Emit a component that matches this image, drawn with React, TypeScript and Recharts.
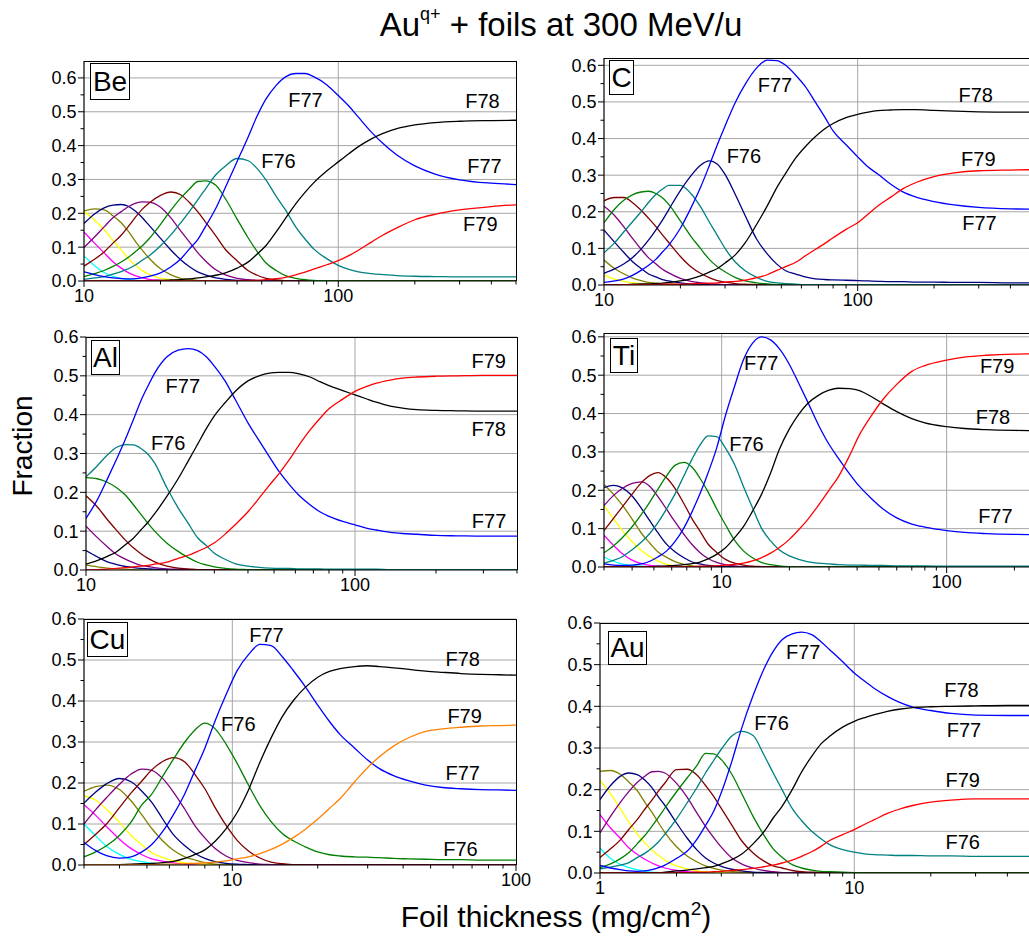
import React from 'react';
import { LineChart, Line, XAxis, YAxis, CartesianGrid, ReferenceDot } from 'recharts';

const FONT = '"Liberation Sans", Arial, Helvetica, sans-serif';

const C_CYAN = '#00ffff';
const C_MAGENTA = '#ff00ff';
const C_YELLOW = '#ffff00';
const C_OLIVE = '#808000';
const C_NAVY = '#000080';
const C_PURPLE = '#800080';
const C_DARKRED = '#800000';
const C_GREEN = '#008000';
const C_TEAL = '#008080';
const C_BLUE = '#0000ff';
const C_BLACK = '#000000';
const C_RED = '#ff0000';
const C_ORANGE = '#ff8000';

// ---------------- Be ----------------
const beX = [10, 11, 12, 13, 14, 15, 16, 17, 18, 20, 22, 24, 26, 28, 30, 33, 36, 40, 44, 48, 52, 57, 62, 68, 74, 80, 90, 100, 110, 120, 135, 150, 170, 200, 240, 300, 400, 500];
const beCyan = [0.074, 0.045, 0.025, 0.014, 0.008, 0.004, 0.002, 0.001, 0];
const beMagenta = [0.145, 0.112, 0.083, 0.057, 0.038, 0.024, 0.015, 0.009, 0.005, 0.002, 0.001, 0];
const beYellow = [0.205, 0.18, 0.152, 0.12, 0.092, 0.065, 0.045, 0.03, 0.02, 0.008, 0.004, 0.002, 0.001, 0];
const beOlive = [0.207, 0.213, 0.21, 0.193, 0.172, 0.145, 0.115, 0.09, 0.068, 0.036, 0.018, 0.008, 0.005, 0.002, 0.001, 0];
const beNavy = [0.17, 0.198, 0.216, 0.224, 0.226, 0.22, 0.205, 0.186, 0.165, 0.126, 0.091, 0.063, 0.042, 0.027, 0.018, 0.009, 0.005, 0.002, 0.001, 0];
const bePurple = [0.099, 0.13, 0.16, 0.187, 0.205, 0.22, 0.23, 0.234, 0.233, 0.218, 0.186, 0.148, 0.115, 0.084, 0.06, 0.033, 0.018, 0.008, 0.004, 0.002, 0.001, 0];
const beDarkred = [0.044, 0.064, 0.086, 0.112, 0.135, 0.163, 0.19, 0.213, 0.23, 0.253, 0.263, 0.255, 0.232, 0.205, 0.175, 0.133, 0.093, 0.06, 0.032, 0.017, 0.008, 0.003, 0.001, 0];
const beGreen = [0.013, 0.022, 0.031, 0.043, 0.056, 0.071, 0.088, 0.105, 0.124, 0.167, 0.21, 0.245, 0.272, 0.294, 0.296, 0.283, 0.243, 0.183, 0.13, 0.087, 0.053, 0.031, 0.016, 0.008, 0.004, 0.002, 0.001, 0];
const beTeal = [0.005, 0.009, 0.013, 0.02, 0.028, 0.037, 0.048, 0.062, 0.074, 0.104, 0.137, 0.172, 0.206, 0.24, 0.271, 0.314, 0.34, 0.362, 0.356, 0.332, 0.298, 0.25, 0.21, 0.16, 0.124, 0.095, 0.066, 0.046, 0.034, 0.027, 0.022, 0.019, 0.016, 0.014, 0.013, 0.012, 0.012, 0.012];
const beBlue = [0.027, 0.019, 0.013, 0.009, 0.007, 0.006, 0.007, 0.01, 0.014, 0.024, 0.042, 0.065, 0.095, 0.122, 0.16, 0.215, 0.277, 0.353, 0.422, 0.488, 0.538, 0.578, 0.603, 0.613, 0.613, 0.604, 0.58, 0.548, 0.517, 0.484, 0.44, 0.406, 0.372, 0.34, 0.316, 0.299, 0.289, 0.285];
const beBlack = [0, 0, 0, 0, 0, 0, 0.001, 0.001, 0.001, 0.002, 0.003, 0.004, 0.006, 0.009, 0.012, 0.017, 0.024, 0.038, 0.055, 0.08, 0.105, 0.145, 0.185, 0.228, 0.262, 0.29, 0.325, 0.352, 0.376, 0.397, 0.42, 0.436, 0.45, 0.461, 0.468, 0.472, 0.474, 0.475];
const beRed = [0, 0, 0, 0, 0, 0, 0, 0, 0, 0, 0, 0, 0, 0, 0, 0, 0, 0, 0.001, 0.002, 0.004, 0.007, 0.011, 0.018, 0.026, 0.035, 0.048, 0.06, 0.075, 0.091, 0.115, 0.136, 0.157, 0.181, 0.197, 0.21, 0.22, 0.225];
const beLabels = [
  { x: 74.3, y: 0.534, t: 'F77' }, { x: 58.2, y: 0.354, t: 'F76' }, { x: 369, y: 0.532, t: 'F78' },
  { x: 376, y: 0.339, t: 'F77' }, { x: 362, y: 0.169, t: 'F79' },
];

// ---------------- C ----------------
const cX = [10, 11, 12, 13, 14, 15, 16, 17, 18, 20, 22, 24, 26, 28, 30, 33, 36, 40, 44, 48, 52, 57, 62, 68, 74, 80, 90, 100, 110, 120, 135, 150, 170, 200, 240, 300, 400, 500];
const cYellow = [0.027, 0.016, 0.01, 0.006, 0.003, 0.002, 0.001, 0];
const cOlive = [0.068, 0.045, 0.03, 0.019, 0.012, 0.007, 0.005, 0.003, 0.002, 0.001, 0];
const cNavy = [0.15, 0.117, 0.088, 0.063, 0.045, 0.03, 0.022, 0.015, 0.011, 0.006, 0.003, 0.002, 0.001, 0];
const cPurple = [0.215, 0.19, 0.158, 0.126, 0.098, 0.074, 0.058, 0.043, 0.033, 0.018, 0.01, 0.006, 0.003, 0.002, 0.001, 0];
const cDarkred = [0.23, 0.239, 0.239, 0.224, 0.204, 0.182, 0.16, 0.137, 0.116, 0.078, 0.05, 0.032, 0.02, 0.012, 0.008, 0.004, 0.002, 0.001, 0];
const cGreen = [0.17, 0.207, 0.232, 0.247, 0.254, 0.256, 0.25, 0.238, 0.22, 0.175, 0.133, 0.1, 0.07, 0.05, 0.036, 0.02, 0.011, 0.006, 0.003, 0.001, 0.001, 0];
const cTeal = [0.088, 0.115, 0.146, 0.174, 0.2, 0.226, 0.247, 0.262, 0.272, 0.272, 0.25, 0.214, 0.172, 0.135, 0.1, 0.062, 0.039, 0.021, 0.01, 0.006, 0.004, 0.002, 0.001, 0];
const cNavyF76 = [0.032, 0.044, 0.058, 0.076, 0.098, 0.123, 0.15, 0.177, 0.206, 0.258, 0.298, 0.327, 0.339, 0.33, 0.302, 0.246, 0.19, 0.125, 0.085, 0.057, 0.039, 0.03, 0.022, 0.017, 0.015, 0.014, 0.013, 0.012, 0.011, 0.01, 0.009, 0.009, 0.008, 0.008, 0.007, 0.007, 0.006, 0.006];
const cBlue = [0.007, 0.011, 0.017, 0.027, 0.04, 0.054, 0.07, 0.09, 0.109, 0.155, 0.21, 0.266, 0.326, 0.384, 0.434, 0.5, 0.548, 0.593, 0.614, 0.613, 0.6, 0.573, 0.543, 0.5, 0.46, 0.421, 0.383, 0.35, 0.322, 0.303, 0.275, 0.255, 0.24, 0.228, 0.219, 0.212, 0.208, 0.207];
const cBlack = [0, 0.001, 0.001, 0.002, 0.003, 0.003, 0.004, 0.005, 0.007, 0.011, 0.017, 0.025, 0.035, 0.045, 0.06, 0.083, 0.115, 0.166, 0.216, 0.266, 0.305, 0.347, 0.377, 0.405, 0.426, 0.441, 0.457, 0.466, 0.472, 0.476, 0.478, 0.479, 0.479, 0.477, 0.475, 0.473, 0.472, 0.472];
const cRed = [0, 0, 0.001, 0.001, 0.001, 0.001, 0.001, 0.002, 0.002, 0.002, 0.003, 0.004, 0.005, 0.006, 0.008, 0.01, 0.013, 0.02, 0.028, 0.04, 0.05, 0.062, 0.079, 0.097, 0.113, 0.129, 0.152, 0.17, 0.194, 0.216, 0.24, 0.262, 0.28, 0.296, 0.306, 0.312, 0.314, 0.315];
const cLabels = [
  { x: 47.2, y: 0.545, t: 'F77' }, { x: 35.6, y: 0.352, t: 'F76' }, { x: 292, y: 0.518, t: 'F78' },
  { x: 299, y: 0.344, t: 'F79' }, { x: 302, y: 0.169, t: 'F77' },
];

// ---------------- Al ----------------
const alX = [10, 11, 12, 13, 14, 15, 16, 17, 18, 20, 22, 24, 26, 28, 30, 33, 36, 40, 44, 48, 52, 57, 62, 68, 74, 80, 90, 100, 110, 120, 135, 150, 170, 200, 240, 300, 400];
const alOlive = [0.013, 0.008, 0.005, 0.003, 0.002, 0.001, 0];
const alNavy = [0.05, 0.034, 0.021, 0.014, 0.009, 0.006, 0.004, 0.003, 0.002, 0.001, 0];
const alPurple = [0.113, 0.084, 0.06, 0.04, 0.028, 0.019, 0.012, 0.009, 0.006, 0.003, 0.002, 0.001, 0];
const alDarkred = [0.191, 0.163, 0.13, 0.102, 0.077, 0.057, 0.042, 0.03, 0.021, 0.01, 0.005, 0.003, 0.001, 0];
const alGreen = [0.238, 0.235, 0.226, 0.212, 0.193, 0.168, 0.143, 0.12, 0.1, 0.069, 0.048, 0.032, 0.02, 0.013, 0.008, 0.004, 0.002, 0.001, 0];
const alTeal = [0.24, 0.268, 0.296, 0.316, 0.323, 0.322, 0.313, 0.298, 0.275, 0.211, 0.16, 0.12, 0.083, 0.063, 0.043, 0.027, 0.016, 0.01, 0.007, 0.005, 0.004, 0.004, 0.003, 0.003, 0.003, 0.002, 0.002, 0.002, 0.002, 0.002, 0.001, 0.001, 0.001, 0.001, 0.001, 0.001, 0.001];
const alBlue = [0.133, 0.18, 0.234, 0.286, 0.336, 0.387, 0.436, 0.474, 0.507, 0.549, 0.566, 0.57, 0.565, 0.549, 0.525, 0.485, 0.437, 0.379, 0.333, 0.292, 0.255, 0.22, 0.192, 0.168, 0.15, 0.138, 0.125, 0.116, 0.108, 0.103, 0.097, 0.094, 0.092, 0.089, 0.088, 0.087, 0.087];
const alBlack = [0.015, 0.024, 0.035, 0.047, 0.065, 0.082, 0.103, 0.123, 0.145, 0.19, 0.235, 0.281, 0.324, 0.364, 0.397, 0.432, 0.461, 0.487, 0.5, 0.507, 0.509, 0.509, 0.505, 0.497, 0.485, 0.475, 0.462, 0.451, 0.441, 0.432, 0.422, 0.417, 0.413, 0.411, 0.41, 0.409, 0.409];
const alRed = [0, 0.001, 0.002, 0.004, 0.006, 0.008, 0.01, 0.012, 0.015, 0.02, 0.03, 0.038, 0.048, 0.058, 0.07, 0.093, 0.118, 0.15, 0.185, 0.218, 0.247, 0.284, 0.322, 0.36, 0.39, 0.415, 0.44, 0.46, 0.472, 0.481, 0.489, 0.494, 0.497, 0.499, 0.5, 0.501, 0.501];
const alLabels = [
  { x: 22.9, y: 0.473, t: 'F77' }, { x: 20.2, y: 0.327, t: 'F76' }, { x: 314, y: 0.537, t: 'F79' },
  { x: 314, y: 0.363, t: 'F78' }, { x: 315, y: 0.127, t: 'F77' },
];

// ---------------- Ti ----------------
const tiX = [3, 3.3, 3.6, 4, 4.4, 4.8, 5.2, 5.7, 6.2, 6.8, 7.4, 8, 8.7, 9.5, 10.4, 11.4, 12.5, 13.7, 15, 16.5, 18, 20, 22, 24, 27, 30, 33, 37, 41, 46, 52, 60, 70, 80, 100, 120, 150, 200, 300];
const tiCyan = [0.026, 0.015, 0.008, 0.004, 0.002, 0.001, 0];
const tiMagenta = [0.083, 0.057, 0.036, 0.018, 0.009, 0.004, 0.002, 0.001, 0];
const tiYellow = [0.16, 0.127, 0.097, 0.066, 0.043, 0.027, 0.016, 0.007, 0.003, 0.001, 0];
const tiOlive = [0.215, 0.19, 0.163, 0.125, 0.088, 0.062, 0.04, 0.025, 0.014, 0.007, 0.003, 0.001, 0];
const tiNavy = [0.207, 0.213, 0.207, 0.185, 0.153, 0.12, 0.09, 0.059, 0.04, 0.024, 0.013, 0.008, 0.004, 0.002, 0.001, 0];
const tiPurple = [0.16, 0.186, 0.204, 0.218, 0.222, 0.21, 0.184, 0.15, 0.118, 0.085, 0.058, 0.038, 0.022, 0.012, 0.006, 0.003, 0.001, 0];
const tiDarkred = [0.095, 0.126, 0.155, 0.19, 0.22, 0.239, 0.246, 0.232, 0.205, 0.165, 0.125, 0.094, 0.06, 0.038, 0.02, 0.01, 0.005, 0.002, 0.001, 0];
const tiGreen = [0.037, 0.055, 0.075, 0.105, 0.137, 0.17, 0.202, 0.238, 0.265, 0.273, 0.26, 0.232, 0.196, 0.152, 0.11, 0.07, 0.042, 0.024, 0.012, 0.006, 0.003, 0.001, 0];
const tiTeal = [0.01, 0.017, 0.026, 0.045, 0.065, 0.088, 0.115, 0.152, 0.19, 0.238, 0.282, 0.317, 0.342, 0.34, 0.31, 0.268, 0.21, 0.155, 0.102, 0.068, 0.045, 0.029, 0.02, 0.014, 0.01, 0.008, 0.006, 0.005, 0.005, 0.004, 0.004, 0.003, 0.003, 0.003, 0.002, 0.002, 0.002, 0.002, 0.002];
const tiBlue = [0.008, 0.005, 0.004, 0.005, 0.008, 0.015, 0.026, 0.042, 0.066, 0.102, 0.145, 0.19, 0.245, 0.31, 0.395, 0.47, 0.54, 0.583, 0.6, 0.592, 0.57, 0.528, 0.479, 0.433, 0.369, 0.32, 0.284, 0.243, 0.21, 0.18, 0.152, 0.128, 0.112, 0.104, 0.095, 0.09, 0.087, 0.085, 0.084];
const tiBlack = [0, 0, 0, 0.001, 0.001, 0.001, 0.002, 0.003, 0.004, 0.006, 0.009, 0.013, 0.021, 0.033, 0.05, 0.076, 0.105, 0.145, 0.188, 0.245, 0.305, 0.36, 0.398, 0.425, 0.448, 0.461, 0.466, 0.465, 0.46, 0.445, 0.426, 0.405, 0.387, 0.376, 0.366, 0.361, 0.358, 0.356, 0.355];
const tiRed = [0, 0, 0, 0, 0, 0, 0, 0, 0.001, 0.001, 0.001, 0.002, 0.002, 0.003, 0.005, 0.007, 0.01, 0.016, 0.024, 0.036, 0.05, 0.072, 0.097, 0.122, 0.162, 0.2, 0.235, 0.29, 0.345, 0.392, 0.436, 0.476, 0.51, 0.525, 0.539, 0.547, 0.552, 0.555, 0.556];
const tiLabels = [
  { x: 15.0, y: 0.531, t: 'F77' }, { x: 12.9, y: 0.321, t: 'F76' }, { x: 167.6, y: 0.525, t: 'F79' },
  { x: 160.7, y: 0.39, t: 'F78' }, { x: 164.7, y: 0.132, t: 'F77' },
];

// ---------------- Cu ----------------
const cuX = [3, 3.3, 3.6, 4, 4.4, 4.8, 5.2, 5.7, 6.2, 6.8, 7.4, 8, 8.7, 9.5, 10.4, 11.4, 12.5, 13.7, 15, 16.5, 18, 20, 22, 24, 27, 30, 33, 37, 42, 48, 55, 64, 75, 87, 100];
const cuCyan = [0.1, 0.071, 0.046, 0.026, 0.014, 0.008, 0.004, 0.002, 0.001, 0];
const cuMagenta = [0.147, 0.121, 0.094, 0.063, 0.04, 0.025, 0.015, 0.009, 0.005, 0.002, 0.001, 0];
const cuYellow = [0.169, 0.158, 0.136, 0.104, 0.072, 0.049, 0.03, 0.018, 0.01, 0.005, 0.003, 0.002, 0.001, 0];
const cuOlive = [0.18, 0.191, 0.195, 0.184, 0.156, 0.122, 0.089, 0.058, 0.036, 0.02, 0.012, 0.006, 0.002, 0.001, 0];
const cuNavy = [0.151, 0.178, 0.198, 0.211, 0.203, 0.18, 0.153, 0.111, 0.074, 0.047, 0.028, 0.016, 0.008, 0.004, 0.002, 0.001, 0];
const cuPurple = [0.1, 0.135, 0.164, 0.197, 0.222, 0.234, 0.231, 0.21, 0.178, 0.136, 0.095, 0.066, 0.04, 0.022, 0.011, 0.006, 0.002, 0.001, 0];
const cuDarkred = [0.05, 0.075, 0.1, 0.14, 0.176, 0.205, 0.232, 0.253, 0.262, 0.251, 0.22, 0.186, 0.14, 0.097, 0.06, 0.034, 0.017, 0.007, 0.003, 0.001, 0];
const cuGreen = [0.02, 0.032, 0.047, 0.072, 0.105, 0.147, 0.173, 0.218, 0.258, 0.3, 0.33, 0.346, 0.332, 0.295, 0.248, 0.195, 0.145, 0.106, 0.077, 0.058, 0.045, 0.032, 0.025, 0.022, 0.02, 0.019, 0.018, 0.016, 0.015, 0.014, 0.013, 0.013, 0.012, 0.012, 0.012];
const cuBlue = [0.055, 0.035, 0.023, 0.017, 0.02, 0.032, 0.05, 0.083, 0.123, 0.174, 0.232, 0.285, 0.352, 0.415, 0.474, 0.513, 0.538, 0.535, 0.508, 0.472, 0.437, 0.39, 0.35, 0.318, 0.285, 0.256, 0.235, 0.218, 0.205, 0.195, 0.189, 0.186, 0.184, 0.183, 0.182];
const cuBlack = [0, 0, 0, 0.001, 0.002, 0.003, 0.004, 0.006, 0.009, 0.016, 0.026, 0.037, 0.058, 0.088, 0.128, 0.183, 0.25, 0.31, 0.362, 0.403, 0.432, 0.458, 0.472, 0.479, 0.484, 0.486, 0.484, 0.481, 0.477, 0.473, 0.47, 0.467, 0.465, 0.464, 0.463];
const cuOrange = [0, 0, 0, 0, 0.001, 0.001, 0.001, 0.002, 0.002, 0.003, 0.004, 0.005, 0.007, 0.01, 0.015, 0.02, 0.028, 0.038, 0.051, 0.068, 0.086, 0.112, 0.138, 0.162, 0.203, 0.238, 0.264, 0.29, 0.311, 0.326, 0.332, 0.336, 0.339, 0.34, 0.341];
const cuLabels = [
  { x: 13.2, y: 0.561, t: 'F77' }, { x: 10.5, y: 0.344, t: 'F76' }, { x: 64.9, y: 0.502, t: 'F78' },
  { x: 65.9, y: 0.364, t: 'F79' }, { x: 64.9, y: 0.224, t: 'F77' }, { x: 63.7, y: 0.039, t: 'F76' },
];

// ---------------- Au ----------------
const auX = [1, 1.1, 1.2, 1.3, 1.4, 1.5, 1.6, 1.7, 1.8, 2, 2.2, 2.4, 2.6, 2.8, 3, 3.3, 3.6, 4, 4.4, 4.8, 5.2, 5.7, 6.2, 6.8, 7.4, 8, 9, 10, 11, 12, 13.5, 15, 17, 20, 24, 30, 40, 50];
const auCyan = [0.06, 0.035, 0.021, 0.013, 0.008, 0.004, 0.002, 0.001, 0];
const auMagenta = [0.14, 0.108, 0.084, 0.06, 0.045, 0.033, 0.024, 0.017, 0.012, 0.006, 0.003, 0.002, 0.001, 0];
const auYellow = [0.222, 0.19, 0.155, 0.122, 0.094, 0.073, 0.055, 0.042, 0.031, 0.017, 0.01, 0.005, 0.003, 0.002, 0.001, 0];
const auOlive = [0.244, 0.246, 0.237, 0.218, 0.198, 0.17, 0.146, 0.12, 0.097, 0.063, 0.041, 0.027, 0.017, 0.011, 0.007, 0.004, 0.002, 0.001, 0];
const auNavy = [0.176, 0.21, 0.232, 0.24, 0.236, 0.223, 0.205, 0.182, 0.162, 0.12, 0.084, 0.056, 0.036, 0.024, 0.016, 0.009, 0.005, 0.002, 0.001, 0];
const auPurple = [0.096, 0.136, 0.169, 0.196, 0.217, 0.232, 0.243, 0.244, 0.24, 0.215, 0.182, 0.145, 0.112, 0.085, 0.062, 0.036, 0.022, 0.012, 0.006, 0.003, 0.001, 0];
const auDarkred = [0.037, 0.058, 0.079, 0.105, 0.128, 0.153, 0.175, 0.197, 0.216, 0.248, 0.249, 0.236, 0.21, 0.184, 0.155, 0.115, 0.078, 0.048, 0.029, 0.017, 0.012, 0.006, 0.003, 0.002, 0.001, 0];
const auGreen = [0.013, 0.022, 0.034, 0.049, 0.07, 0.09, 0.112, 0.134, 0.156, 0.195, 0.228, 0.257, 0.287, 0.286, 0.272, 0.237, 0.192, 0.136, 0.092, 0.058, 0.038, 0.02, 0.012, 0.007, 0.004, 0.003, 0.002, 0.001, 0];
const auTeal = [0.01, 0.014, 0.019, 0.025, 0.037, 0.047, 0.06, 0.075, 0.093, 0.13, 0.168, 0.204, 0.24, 0.27, 0.297, 0.329, 0.34, 0.33, 0.285, 0.24, 0.2, 0.155, 0.126, 0.1, 0.082, 0.068, 0.056, 0.05, 0.046, 0.044, 0.043, 0.042, 0.042, 0.041, 0.041, 0.04, 0.04, 0.04];
const auBlue = [0.018, 0.012, 0.008, 0.005, 0.004, 0.005, 0.008, 0.013, 0.019, 0.035, 0.052, 0.08, 0.114, 0.148, 0.193, 0.268, 0.346, 0.426, 0.488, 0.532, 0.56, 0.574, 0.578, 0.572, 0.555, 0.536, 0.507, 0.48, 0.46, 0.443, 0.424, 0.41, 0.398, 0.39, 0.383, 0.379, 0.378, 0.378];
const auBlack = [0, 0, 0, 0, 0, 0.001, 0.001, 0.001, 0.002, 0.005, 0.007, 0.01, 0.013, 0.016, 0.022, 0.032, 0.045, 0.07, 0.098, 0.132, 0.16, 0.2, 0.242, 0.28, 0.31, 0.328, 0.35, 0.364, 0.373, 0.38, 0.388, 0.393, 0.397, 0.399, 0.4, 0.401, 0.402, 0.402];
const auRed = [0, 0, 0, 0, 0, 0, 0, 0, 0, 0.001, 0.001, 0.002, 0.002, 0.003, 0.004, 0.006, 0.008, 0.011, 0.015, 0.019, 0.024, 0.031, 0.04, 0.051, 0.064, 0.078, 0.092, 0.104, 0.117, 0.128, 0.143, 0.153, 0.162, 0.17, 0.175, 0.178, 0.178, 0.178];
const auLabels = [
  { x: 6.3, y: 0.53, t: 'F77' }, { x: 4.73, y: 0.361, t: 'F76' }, { x: 26.4, y: 0.439, t: 'F78' },
  { x: 27.0, y: 0.343, t: 'F77' }, { x: 26.7, y: 0.223, t: 'F79' }, { x: 26.7, y: 0.075, t: 'F76' },
];

// ---------------- ticks ----------------
const yTicks = [0, 0.05, 0.1, 0.15, 0.2, 0.25, 0.3, 0.35, 0.4, 0.45, 0.5, 0.55, 0.6];
const yGrid = [0.1, 0.2, 0.3, 0.4, 0.5, 0.6];
const ticks10to500 = [10, 20, 30, 40, 50, 60, 70, 80, 90, 100, 200, 300, 400, 500];
const ticks10to400 = [10, 20, 30, 40, 50, 60, 70, 80, 90, 100, 200, 300, 400];
const ticks3to300 = [3, 4, 5, 6, 7, 8, 9, 10, 20, 30, 40, 50, 60, 70, 80, 90, 100, 200, 300];
const ticks3to100 = [3, 4, 5, 6, 7, 8, 9, 10, 20, 30, 40, 50, 60, 70, 80, 90, 100];
const ticks1to50 = [1, 2, 3, 4, 5, 6, 7, 8, 9, 10, 20, 30, 40, 50];

type S = { key: string; color: string; values: number[] };
type Lab = { x: number; y: number; t: string };
type Cfg = {
  name: string; left: number; top: number; w: number; h: number;
  xDomain: [number, number]; yMax: number; xs: number[]; series: S[];
  xTicks: number[]; xMajor: number[]; gridX: number[]; labels: Lab[];
  box: { l: number; t: number; w: number; h: number };
};

const s = (key: string, color: string, values: number[]): S => ({ key, color, values });

const panels: Cfg[] = [
  {
    name: 'Be', left: 84, top: 61, w: 432, h: 220, xDomain: [10, 500], yMax: 0.65, xs: beX,
    series: [s('cyan', C_CYAN, beCyan), s('magenta', C_MAGENTA, beMagenta), s('yellow', C_YELLOW, beYellow), s('olive', C_OLIVE, beOlive), s('navy', C_NAVY, beNavy), s('purple', C_PURPLE, bePurple), s('darkred', C_DARKRED, beDarkred), s('green', C_GREEN, beGreen), s('teal', C_TEAL, beTeal), s('blue', C_BLUE, beBlue), s('black', C_BLACK, beBlack), s('red', C_RED, beRed)],
    xTicks: ticks10to500, xMajor: [10, 100], gridX: [100], labels: beLabels, box: { l: 6, t: 2, w: 40, h: 37 },
  },
  {
    name: 'C', left: 604, top: 58, w: 431, h: 227, xDomain: [10, 500], yMax: 0.62, xs: cX,
    series: [s('yellow', C_YELLOW, cYellow), s('olive', C_OLIVE, cOlive), s('navy', C_NAVY, cNavy), s('purple', C_PURPLE, cPurple), s('darkred', C_DARKRED, cDarkred), s('green', C_GREEN, cGreen), s('teal', C_TEAL, cTeal), s('navy2', C_NAVY, cNavyF76), s('blue', C_BLUE, cBlue), s('black', C_BLACK, cBlack), s('red', C_RED, cRed)],
    xTicks: ticks10to500, xMajor: [10, 100], gridX: [100], labels: cLabels, box: { l: 5, t: 2, w: 25, h: 35 },
  },
  {
    name: 'Al', left: 86, top: 337, w: 431, h: 233, xDomain: [10, 400], yMax: 0.6, xs: alX,
    series: [s('olive', C_OLIVE, alOlive), s('navy', C_NAVY, alNavy), s('purple', C_PURPLE, alPurple), s('darkred', C_DARKRED, alDarkred), s('green', C_GREEN, alGreen), s('teal', C_TEAL, alTeal), s('blue', C_BLUE, alBlue), s('black', C_BLACK, alBlack), s('red', C_RED, alRed)],
    xTicks: ticks10to400, xMajor: [10, 100], gridX: [100], labels: alLabels, box: { l: 5, t: 3, w: 29, h: 35 },
  },
  {
    name: 'Ti', left: 604, top: 333, w: 450, h: 234, xDomain: [3, 300], yMax: 0.61, xs: tiX,
    series: [s('cyan', C_CYAN, tiCyan), s('magenta', C_MAGENTA, tiMagenta), s('yellow', C_YELLOW, tiYellow), s('olive', C_OLIVE, tiOlive), s('navy', C_NAVY, tiNavy), s('purple', C_PURPLE, tiPurple), s('darkred', C_DARKRED, tiDarkred), s('green', C_GREEN, tiGreen), s('teal', C_TEAL, tiTeal), s('blue', C_BLUE, tiBlue), s('black', C_BLACK, tiBlack), s('red', C_RED, tiRed)],
    xTicks: ticks3to300, xMajor: [10, 100], gridX: [10, 100], labels: tiLabels, box: { l: 6, t: 5, w: 28, h: 35 },
  },
  {
    name: 'Cu', left: 84, top: 619, w: 432, h: 246, xDomain: [3, 100], yMax: 0.6, xs: cuX,
    series: [s('cyan', C_CYAN, cuCyan), s('magenta', C_MAGENTA, cuMagenta), s('yellow', C_YELLOW, cuYellow), s('olive', C_OLIVE, cuOlive), s('navy', C_NAVY, cuNavy), s('purple', C_PURPLE, cuPurple), s('darkred', C_DARKRED, cuDarkred), s('green', C_GREEN, cuGreen), s('blue', C_BLUE, cuBlue), s('black', C_BLACK, cuBlack), s('orange', C_ORANGE, cuOrange)],
    xTicks: ticks3to100, xMajor: [10, 100], gridX: [10], labels: cuLabels, box: { l: 3, t: 3, w: 41, h: 35 },
  },
  {
    name: 'Au', left: 600, top: 623, w: 432, h: 250, xDomain: [1, 50], yMax: 0.6, xs: auX,
    series: [s('cyan', C_CYAN, auCyan), s('magenta', C_MAGENTA, auMagenta), s('yellow', C_YELLOW, auYellow), s('olive', C_OLIVE, auOlive), s('navy', C_NAVY, auNavy), s('purple', C_PURPLE, auPurple), s('darkred', C_DARKRED, auDarkred), s('green', C_GREEN, auGreen), s('teal', C_TEAL, auTeal), s('blue', C_BLUE, auBlue), s('black', C_BLACK, auBlack), s('red', C_RED, auRed)],
    xTicks: ticks1to50, xMajor: [1, 10], gridX: [10], labels: auLabels, box: { l: 8, t: 8, w: 39, h: 34 },
  },
];

const ML = 60, MT = 10, MR = 30, XH = 40;

function makeRows(xs: number[], series: S[]) {
  return xs.map((x, i) => {
    const row: Record<string, number> = { x };
    series.forEach((sr) => { row[sr.key] = sr.values[i] ?? 0; });
    return row;
  });
}

function XTick(props: any) {
  const { x, y, payload, majors } = props;
  const v = payload.value;
  const major = majors.includes(v);
  return (
    <g>
      <line x1={x} x2={x} y1={y} y2={y + (major ? 6 : 3.5)} stroke="#000" strokeWidth={1} />
      {major && (
        <text x={x} y={y + 21} textAnchor="middle" fontSize={18} fontFamily={FONT} fill="#000">{String(v)}</text>
      )}
    </g>
  );
}

function YTick(props: any) {
  const { x, y, payload } = props;
  const v = payload.value as number;
  const major = Math.abs(v * 10 - Math.round(v * 10)) < 1e-6;
  return (
    <g>
      <line x1={x} x2={x - (major ? 6 : 3.5)} y1={y} y2={y} stroke="#000" strokeWidth={1} />
      {major && (
        <text x={x - 7.5} y={y} dy={6.4} textAnchor="end" fontSize={18} fontFamily={FONT} fill="#000">{v.toFixed(1)}</text>
      )}
    </g>
  );
}

function Panel({ cfg }: { cfg: Cfg }) {
  const rows = makeRows(cfg.xs, cfg.series);
  const yt = yTicks.filter((t) => t <= cfg.yMax + 1e-9);
  return (
    <>
      <div style={{ position: 'absolute', left: cfg.left - ML, top: cfg.top - MT }}>
        <LineChart width={ML + cfg.w + MR} height={MT + cfg.h + XH} data={rows} margin={{ top: MT, right: MR, left: 0, bottom: 0 }}>
          <CartesianGrid horizontalValues={yGrid.filter((g) => g <= cfg.yMax)} verticalValues={cfg.gridX} stroke="#a6a6a6" strokeWidth={1} />
          <XAxis
            dataKey="x" type="number" scale="log" domain={cfg.xDomain} allowDataOverflow
            ticks={cfg.xTicks} interval={0} tickLine={false} tickSize={0} tickMargin={0} height={XH}
            axisLine={{ stroke: '#000', strokeWidth: 1.2 }}
            tick={(p: any) => <XTick {...p} majors={cfg.xMajor} />}
          />
          <YAxis
            type="number" domain={[0, cfg.yMax]} allowDataOverflow ticks={yt} interval={0}
            tickLine={false} tickSize={0} tickMargin={0} width={ML}
            axisLine={{ stroke: '#000', strokeWidth: 1.2 }}
            tick={(p: any) => <YTick {...p} />}
          />
          {cfg.series.map((sr) => (
            <Line key={sr.key} dataKey={sr.key} stroke={sr.color} strokeWidth={1.3} dot={false} activeDot={false} type="monotone" isAnimationActive={false} />
          ))}
          {cfg.labels.map((lb, i) => (
            <ReferenceDot
              key={i} x={lb.x} y={lb.y} r={0} ifOverflow="visible"
              shape={(p: any) => (
                <text x={p.cx} y={p.cy} dy={7} textAnchor="middle" fontSize={20} fontFamily={FONT} fill="#000">{lb.t}</text>
              )}
            />
          ))}
        </LineChart>
      </div>
      <div style={{ position: 'absolute', left: cfg.left, top: cfg.top, width: cfg.w + 1, height: cfg.h, boxSizing: 'border-box', borderTop: '1px solid #000', borderRight: '1px solid #000', pointerEvents: 'none' }} />
      <div style={{ position: 'absolute', left: cfg.left + cfg.box.l, top: cfg.top + cfg.box.t, width: cfg.box.w, height: cfg.box.h, boxSizing: 'border-box', border: '1px solid #000', background: '#fff', fontFamily: FONT, fontSize: 28, lineHeight: `${cfg.box.h - 2}px`, textAlign: 'center', color: '#000' }}>
        {cfg.name}
      </div>
    </>
  );
}

export default function App() {
  return (
    <div style={{ position: 'fixed', left: 0, top: 0, width: 1029, height: 943, overflow: 'hidden', background: '#fff', fontFamily: FONT }}>
      {panels.map((p) => <Panel key={p.name} cfg={p} />)}
      <svg width={1029} height={943} style={{ position: 'absolute', left: 0, top: 0, pointerEvents: 'none' }}>
        <text x={561} y={36} textAnchor="middle" fontSize={33} fontFamily={FONT} fill="#000">
          Au<tspan dy={-16} fontSize={18}>q+</tspan><tspan dy={16}> + foils at 300 MeV/u</tspan>
        </text>
        <text x={556} y={927} textAnchor="middle" fontSize={30} fontFamily={FONT} fill="#000">
          Foil thickness (mg/cm<tspan dy={-12} fontSize={19}>2</tspan><tspan dy={12}>)</tspan>
        </text>
        <text transform="translate(32,446) rotate(-90)" textAnchor="middle" fontSize={28} fontFamily={FONT} fill="#000">Fraction</text>
      </svg>
    </div>
  );
}
